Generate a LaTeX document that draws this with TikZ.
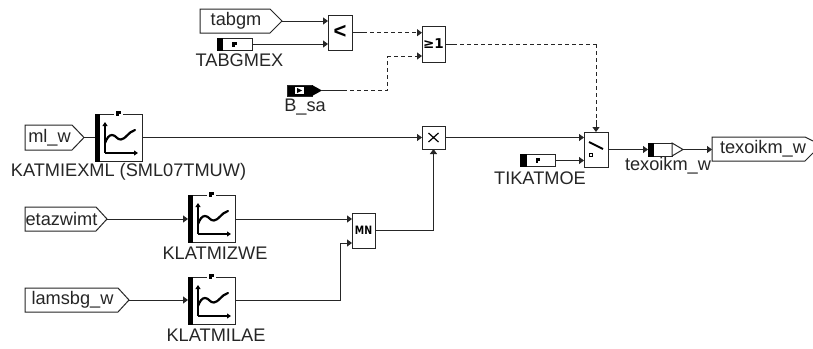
\documentclass[tikz,border=0pt]{standalone}
\usepackage{fontspec}
\setmainfont{Liberation Sans}
\newfontfamily\symfont{DejaVu Sans}
\usetikzlibrary{arrows.meta,calc}
\tikzset{
  x=1pt,y=-1pt,
  blk/.style={draw=black!85,line width=1pt,fill=white,inner sep=0pt,outer sep=0pt,anchor=north west},
  lbl/.style={inner sep=0pt,font=\fontsize{18.2}{19}\selectfont,text=black!85},
  wire/.style={draw=black!85,line width=1pt},
  arr/.style={wire,-{Triangle[length=5pt,width=7pt]}},
  dash5/.style={dash pattern=on 4pt off 3pt},
  outl/.style={draw=black!85,line width=1pt,fill=white,line join=miter},
  ink/.style={fill=black,draw=none},
  opsym/.style={inner sep=0pt,font=\bfseries},
}
% port: name, x left, x shoulder, x tip, y top, y bottom, text
\newcommand{\portshape}[7]{%
  \draw[outl] (#2,#5) -- (#3,#5) -- (#4,{(#5+#6)/2}) -- (#3,#6) -- (#2,#6) -- cycle;
  \coordinate (#1) at (#4,{(#5+#6)/2});
  \node[lbl] (#1txt) at ({(#2+#3)/2+1},{(#5+#6)/2}) {#7};}
% p mark
\newcommand{\pmark}[2]{%
  \fill[ink] ($(#1,#2)+(-2,-2.5)$) rectangle ($(#1,#2)+(2.5,0.5)$);
  \fill[ink] ($(#1,#2)+(-2,-2.5)$) rectangle ($(#1,#2)+(0.5,2.5)$);}
% map block: name, x, y
\newcommand{\mapblock}[3]{%
  \node[blk,minimum width=47pt,minimum height=47pt] (#1) at (#2,#3) {};
  \fill[ink] (#2-0.5,#3-0.5) rectangle (#2+5,#3+47.5);
  \fill[white] (#2+19,#3-2) rectangle (#2+28,#3+2);
  \pmark{#2+23}{#3-0.5}
  \draw[line width=1.3pt,-{Triangle[length=4pt,width=5pt]}] (#2+10,#3+39) -- (#2+10,#3+8);
  \draw[line width=1.3pt,-{Triangle[length=4pt,width=5pt]}] (#2+10,#3+39) -- (#2+43,#3+39);
  \draw[line width=2.2pt,line cap=round] (#2+10,#3+29) .. controls (#2+12,#3+24) and (#2+14,#3+21) .. (#2+17,#3+21)
     .. controls (#2+21,#3+21) and (#2+22,#3+26) .. (#2+26,#3+25.5)
     .. controls (#2+31,#3+25) and (#2+33,#3+18) .. (#2+40,#3+16);}
% small parameter block: name, x, y
\newcommand{\parblock}[3]{%
  \node[blk,minimum width=35pt,minimum height=12pt] (#1) at (#2,#3) {};
  \fill[ink] (#2-0.5,#3-0.5) rectangle (#2+6,#3+12.5);
  \pmark{#2+17}{#3+6}}
\begin{document}
\begin{tikzpicture}
\useasboundingbox[fill=white] (0,0) rectangle (813,348);

% operator blocks
\node[blk,minimum width=24pt,minimum height=35pt] (lt) at (328,15) {};
\node[opsym,font=\fontsize{22}{22}\selectfont\bfseries] at ($(lt.center)+(0,-1)$) {<};
\node[blk,minimum width=23pt,minimum height=36pt] (orb) at (422,26) {};
\node[opsym,font=\fontsize{13.5}{14}\selectfont\bfseries\symfont] at (orb.center) {≥1};
\node[blk,minimum width=23pt,minimum height=23pt] (mul) at (422,126) {};
\draw[line width=1.2pt] ($(mul.center)+(-5,-4.5)$) -- ($(mul.center)+(5,4.5)$) ($(mul.center)+(-5,4.5)$) -- ($(mul.center)+(5,-4.5)$);
\node[blk,minimum width=23pt,minimum height=35pt] (mn) at (352,213) {};
\node[opsym,font=\fontsize{11.5}{12}\selectfont\bfseries\symfont,xscale=0.82] at (mn.center) {MN};
\node[blk,minimum width=24pt,minimum height=35pt] (sw) at (584,132) {};
\draw[line width=1.8pt] (589,142) -- (603,149);
\draw[line width=0.8pt] (589.5,153.5) rectangle (592.5,156.5);

% map blocks
\mapblock{kat}{95}{114}
\mapblock{kz}{188}{195}
\mapblock{kl}{188}{277}

% parameter blocks
\parblock{tabex}{217}{38}
\parblock{tik}{520.5}{154.5}

% inputs
\portshape{tabgm}{200}{270}{282}{9}{33}{tabgm}
\portshape{mlw}{25}{72}{84}{125}{150}{ml\_w}
\portshape{eta}{25}{96}{107}{207}{231}{etazwimt}
\portshape{lam}{25}{118}{129}{288}{312}{lamsbg\_w}

% output
\draw[outl] (813,141) -- (805,137) -- (712,137) -- (712,161) -- (805,161) -- (813,153);
\coordinate (outp) at (712,149.5);
\node[lbl] (outtxt) at (763,149) {texoikm\_w};

% B_sa source
\node[blk,minimum width=25pt,minimum height=11pt,fill=black] (bsa) at (287,85) {};
\fill[ink] (312,85) -- (322,90.5) -- (312,96) -- cycle;
\coordinate (bsatip) at (322,90.5);
\fill[white] (295,87) rectangle (304,94);
\fill[ink] (297,88) -- (302,90.5) -- (297,93) -- cycle;

% texoikm_w element
\node[blk,minimum width=24pt,minimum height=13pt] (tex) at (648,143) {};
\fill[ink] (647.5,142.5) rectangle (654,156.5);
\draw[outl] (672,143) -- (683,149.5) -- (672,156) -- cycle;
\coordinate (texl) at (683,149.5);

% labels
\node[lbl] (l1) at (239.5,60) {TABGMEX};
\node[lbl] (l2) at (305,107) {B\_sa};
\node[lbl] (l3) at (128.5,172) {KATMIEXML (SML07TMUW)};
\node[lbl] (l4) at (215,253) {KLATMIZWE};
\node[lbl] (l5) at (216,335) {KLATMILAE};
\node[lbl] (l6) at (540,178) {TIKATMOE};
\node[lbl] (l7) at (668,166) {texoikm\_w};

% connectors
\draw[arr] (tabgm) -- (lt.west |- tabgm);
\draw[arr] (tabex.east) -- (lt.west |- tabex.east);
\coordinate (j0) at (352,32.7);
\draw[wire] (j0) -- ++(11,0) coordinate (s1);
\draw[arr,dash5] (s1) -- (orb.west |- s1);
\coordinate (b1) at (387,56);
\draw[wire] (bsatip) -- ++(21,0) coordinate (s2);
\draw[wire,dash5] (s2) -| (b1);
\draw[arr,dash5] (b1) -- (orb.west |- b1);
\coordinate (t1) at (sw.north |- orb.east);
\draw[wire] (orb.east) -- ++(8,0) coordinate (s3);
\draw[wire,dash5] (s3) -- (t1);
\draw[wire,dash5] (t1) -- ($(sw.north)+(0,-12)$) coordinate (s4);
\draw[arr] (s4) -- (sw.north);
\draw[wire] (mlw) -- (kat.west |- mlw);
\draw[arr] (kat.east |- mlw) -- (mul.west |- mlw);
\draw[arr] (eta) -- (kz.west |- eta);
\draw[arr] (lam) -- (kl.west |- lam);
\draw[arr] (kz.east |- eta) -- (mn.west |- eta);
\coordinate (m1) at (340,300);
\coordinate (m2) at (340,243);
\draw[arr] (kl.east |- lam) -- (m1) -- (m2) -- (mn.west |- m2);
\draw[arr] (mn.east) -| (mul.south);
\draw[arr] (mul.east) -- (sw.west |- mul.east);
\draw[arr] (tik.east) -- (sw.west |- tik.east);
\draw[arr] (sw.east) -- (tex.west);
\draw[arr] (texl) -- (outp);
\end{tikzpicture}
\end{document}
